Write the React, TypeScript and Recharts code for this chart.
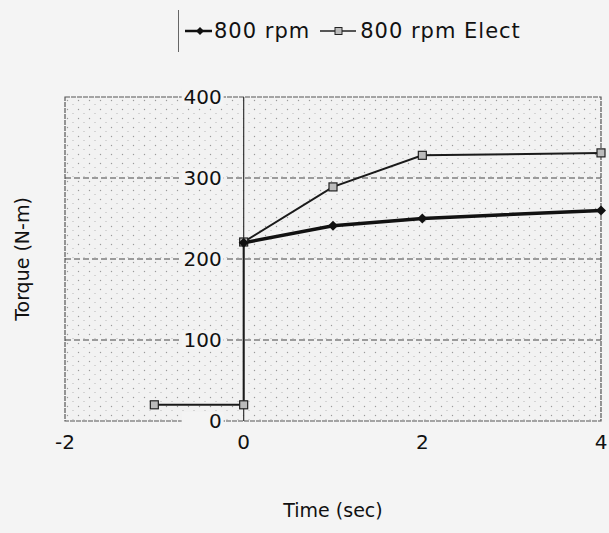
import {
  LineChart,
  Line,
  XAxis,
  YAxis,
  CartesianGrid,
  ReferenceArea,
  ReferenceLine,
  ReferenceDot,
} from 'recharts';

const rpmTime = [0, 1, 2, 4];
const rpmTorque = [220, 241, 250, 260];
const electTime = [-1, 0, 0, 1, 2, 4];
const electTorque = [20, 20, 221, 289, 328, 331];
const xTicks = [-2, 0, 2, 4];
const yTicks = [0, 100, 200, 300, 400];
const gridValues = [100, 200, 300];
const seriesNames = ['800 rpm', '800 rpm Elect'];

const FONT = '"DejaVu Sans", "Open Sans", sans-serif';
const BG = '#f4f4f4';

const rpmData = rpmTime.map((t, i) => ({ t, v: rpmTorque[i] }));
const electData = electTime.map((t, i) => ({ t, v: electTorque[i] }));

function Diamond(props: any) {
  const { cx, cy } = props;
  if (cx == null || cy == null) return null;
  return <path d={`M${cx},${cy - 5} L${cx + 5},${cy} L${cx},${cy + 5} L${cx - 5},${cy} Z`} fill="#111" />;
}

function Square(props: any) {
  const { cx, cy } = props;
  if (cx == null || cy == null) return null;
  return <rect x={cx - 4} y={cy - 4} width={8} height={8} fill="#bbb" stroke="#222" strokeWidth={1.2} />;
}

function YLabel(props: any) {
  const { viewBox, value } = props;
  const x = viewBox.x;
  const y = viewBox.y;
  return (
    <g>
      <rect x={x - 62} y={y - 9} width={42} height={18} fill={BG} />
      <text x={x - 22} y={y} dy="0.36em" textAnchor="end" fontSize={20} fontFamily={FONT} fill="#111">
        {value}
      </text>
    </g>
  );
}

function LegendBox() {
  return (
    <div
      style={{
        position: 'absolute',
        left: 178,
        top: 10,
        height: 42,
        borderLeft: '1px solid #666',
        display: 'flex',
        alignItems: 'center',
        paddingLeft: 6,
        fontFamily: FONT,
        fontSize: 21,
        letterSpacing: 1,
        color: '#111',
        whiteSpace: 'nowrap',
      }}
    >
      <svg width={27} height={12}>
        <line x1={0} y1={6} x2={27} y2={6} stroke="#111" strokeWidth={2.5} />
        <path d="M15,2 L19,6 L15,10 L11,6 Z" fill="#111" />
      </svg>
      <span style={{ marginLeft: 2, marginRight: 10 }}>{seriesNames[0]}</span>
      <svg width={36} height={12}>
        <line x1={0} y1={6} x2={36} y2={6} stroke="#222" strokeWidth={1.5} />
        <rect x={15} y={2.5} width={7} height={7} fill="#bbb" stroke="#222" strokeWidth={1} />
      </svg>
      <span style={{ marginLeft: 4 }}>{seriesNames[1]}</span>
    </div>
  );
}

export default function App() {
  return (
    <div style={{ position: 'absolute', left: 0, top: 0, width: 609, height: 533, background: BG }}>
      <LegendBox />
      <LineChart width={609} height={533} margin={{ top: 97, right: 8, left: 0, bottom: 12 }}>
        <defs>
          <pattern id="dots" width="11" height="9" patternUnits="userSpaceOnUse">
            <rect width="11" height="9" fill="#f2f2f2" />
            <circle cx="1.5" cy="1.5" r="0.7" fill="#9a9a9a" />
            <circle cx="7" cy="5.5" r="0.6" fill="#b0b0b0" />
          </pattern>
        </defs>
        <CartesianGrid vertical={false} horizontal={false} fill="url(#dots)" fillOpacity={1} />
        <XAxis
          type="number"
          dataKey="t"
          domain={[-2, 4]}
          ticks={xTicks}
          allowDuplicatedCategory={false}
          axisLine={false}
          tickLine={false}
          height={100}
          tick={{ fontSize: 20, fontFamily: FONT, fill: '#111', dy: 6 }}
          label={{ value: 'Time (sec)', position: 'insideBottom', offset: 4, fontSize: 19, fontFamily: FONT, fill: '#111' }}
        />
        <YAxis
          type="number"
          domain={[0, 400]}
          ticks={yTicks}
          width={65}
          axisLine={false}
          tickLine={false}
          tick={false}
          label={{ value: 'Torque (N-m)', angle: -90, position: 'insideLeft', offset: 22, fontSize: 19, fontFamily: FONT, fill: '#111', style: { textAnchor: 'middle' } }}
        />
        <ReferenceArea x1={-2} x2={4} y1={0} y2={400} fill="none" stroke="#555" strokeWidth={1.2} strokeDasharray="5 1" />
        {gridValues.map((v) => (
          <ReferenceLine key={`g${v}`} y={v} stroke="#444" strokeWidth={1} strokeDasharray="6 3" />
        ))}
        <ReferenceLine x={0} stroke="#333" strokeWidth={1.2} />
        {yTicks.map((v) => (
          <ReferenceDot key={v} x={0} y={v} r={0} stroke="none" fill="none" label={<YLabel value={v} />} />
        ))}
        <Line
          data={electData}
          dataKey="v"
          type="linear"
          stroke="#1a1a1a"
          strokeWidth={2}
          dot={<Square />}
          isAnimationActive={false}
          name={seriesNames[1]}
        />
        <Line
          data={rpmData}
          dataKey="v"
          type="linear"
          stroke="#111"
          strokeWidth={3.5}
          dot={<Diamond />}
          isAnimationActive={false}
          name={seriesNames[0]}
        />
      </LineChart>
    </div>
  );
}
